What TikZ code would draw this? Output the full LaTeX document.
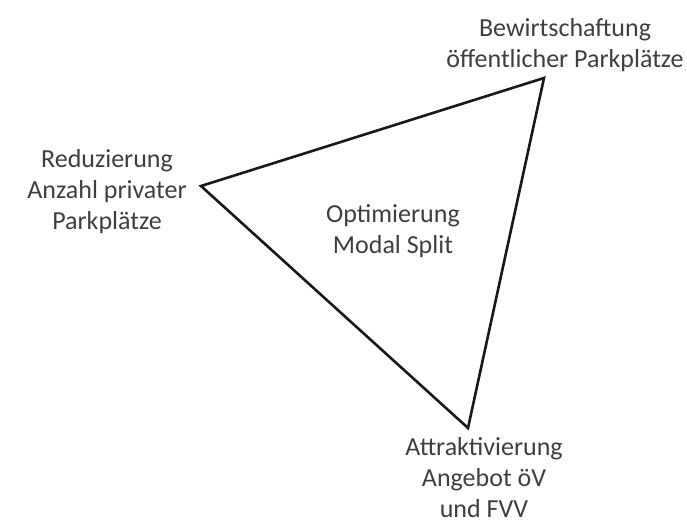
\documentclass[tikz,border=0pt]{standalone}
\usepackage{fontspec}
\setmainfont{Carlito}
\definecolor{txt}{HTML}{3F3F3F}
\begin{document}
\begin{tikzpicture}[x=1pt,y=-1pt,
  lbl/.style={align=center,text=txt,font=\fontsize{26}{31}\selectfont,inner sep=0pt},
  edge/.style={draw=black!90,line width=2.6pt,line join=miter}]
\useasboundingbox (0,0) rectangle (687,522);
\coordinate (T) at (544,78);
\coordinate (L) at (201,186);
\coordinate (B) at (468,428);
\draw[edge] (T) -- (L) -- (B) -- cycle;
\node[lbl] (top) at (565,45) {Bewirtschaftung\\öffentlicher Parkplätze};
\node[lbl] (left) at (107,192) {Reduzierung\\Anzahl privater\\Parkplätze};
\node[lbl] (bot) at (484,478) {Attraktivierung\\Angebot öV\\und FVV};
\node[lbl] (mid) at (393,231) {Optimierung\\Modal Split};
\end{tikzpicture}
\end{document}
